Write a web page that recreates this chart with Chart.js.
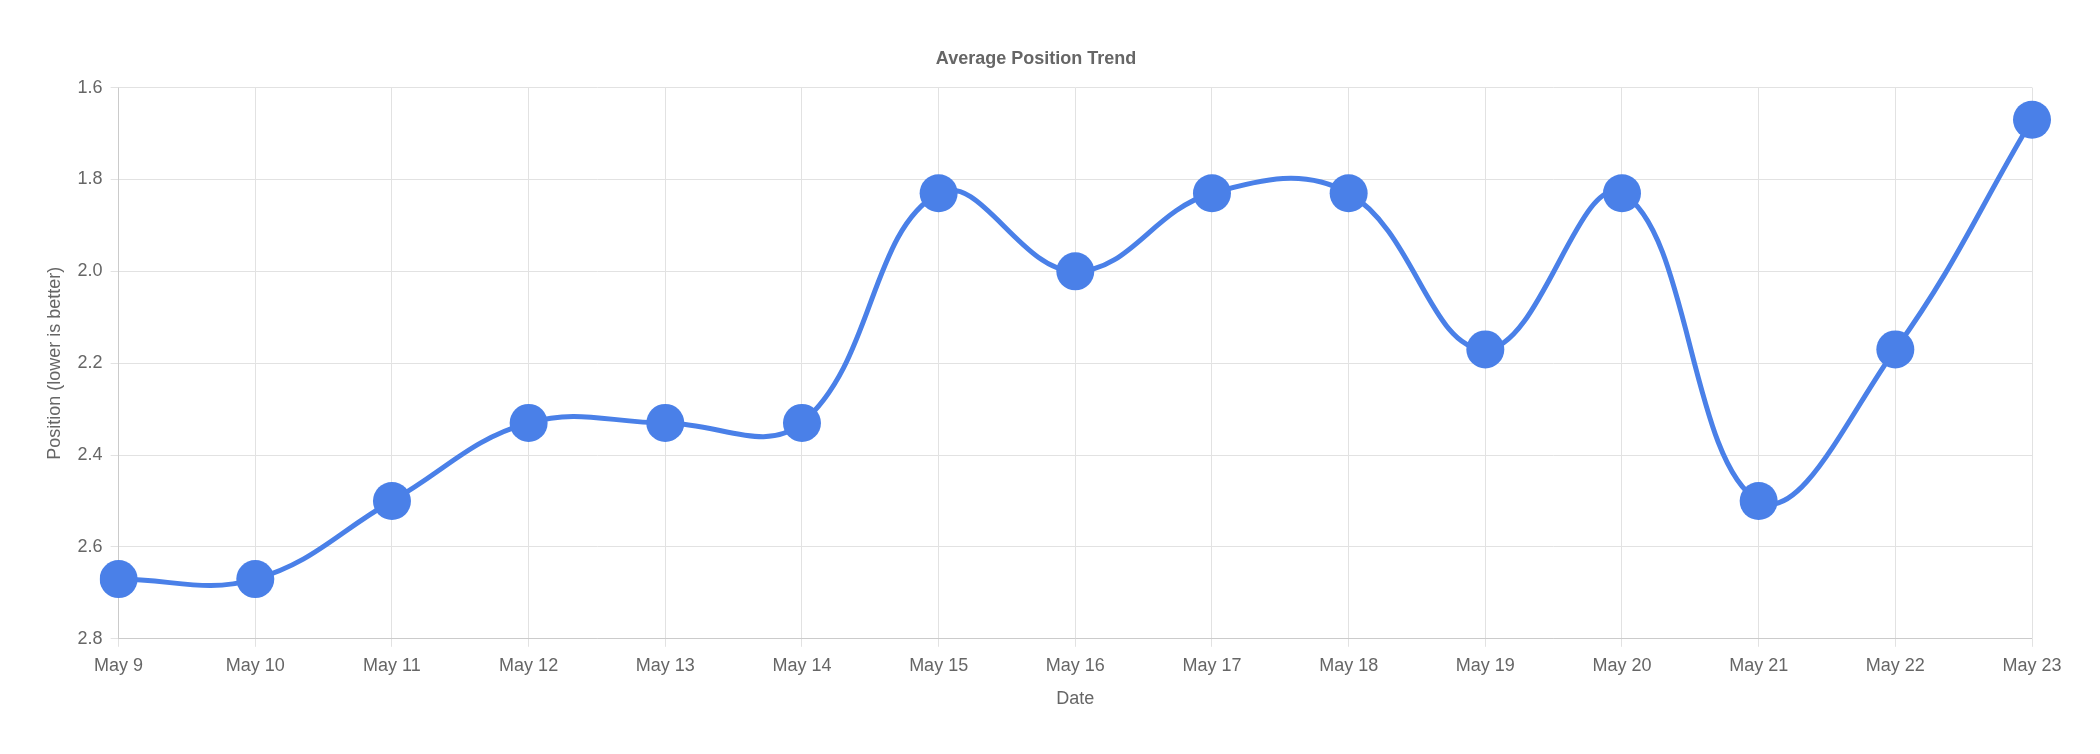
<!DOCTYPE html>
<html><head><meta charset="utf-8">
<script src="https://cdn.jsdelivr.net/npm/chart.js@4"></script>
<style>html,body{margin:0;background:#fff}#w{width:2100px;height:754px}</style>
</head><body><div id="w"><canvas id="c"></canvas></div>
<script>
const categories = ["May 9","May 10","May 11","May 12","May 13","May 14","May 15","May 16","May 17","May 18","May 19","May 20","May 21","May 22","May 23"];
const positions = [2.67,2.67,2.5,2.33,2.33,2.33,1.83,2.0,1.83,1.83,2.17,1.83,2.5,2.17,1.67];
const font = {family:"Helvetica, Arial, 'Liberation Sans', sans-serif", size:18};
new Chart(document.getElementById('c'), {
  type:'line',
  data:{labels:categories, datasets:[{data:positions, borderColor:'#4a80e8', backgroundColor:'#4a80e8',
    borderWidth:5, tension:0.4, pointRadius:19, pointBorderWidth:0, fill:false}]},
  options:{responsive:true, maintainAspectRatio:false, animation:false, devicePixelRatio:1,
    layout:{padding:{left:40,right:68,top:14,bottom:40}},
    plugins:{legend:{display:false}, title:{display:true, text:'Average Position Trend', color:'#666',
      font:{...font, size:18, weight:'bold'}, padding:{top:34,bottom:18}}},
    scales:{
      x:{title:{display:true,text:'Date',color:'#666',font},ticks:{color:'#666',font,padding:8},grid:{color:'#e2e2e2'}},
      y:{reverse:true,min:1.6,max:2.8,ticks:{stepSize:0.2,color:'#666',font,padding:8,callback:v=>v.toFixed(1)},
        title:{display:true,text:'Position (lower is better)',color:'#666',font},grid:{color:'#e2e2e2'}}
    }}
});
</script></body></html>
